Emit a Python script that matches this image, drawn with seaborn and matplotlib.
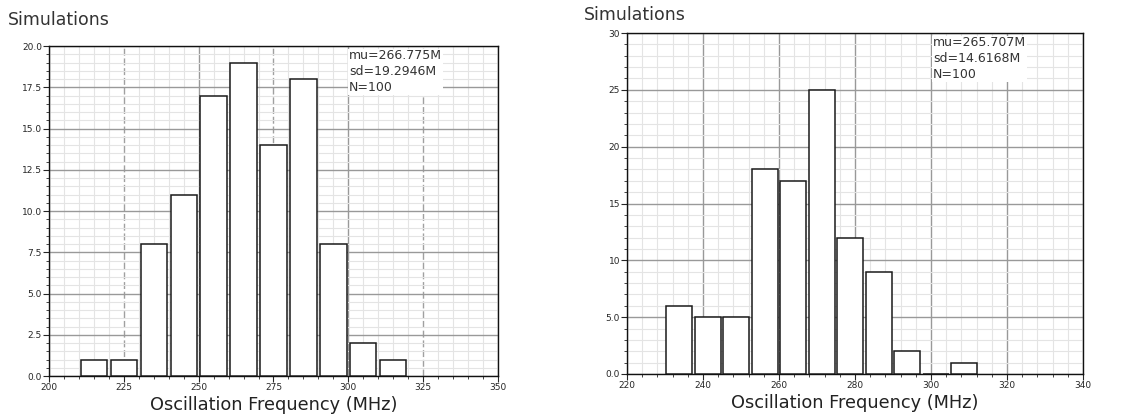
import matplotlib
matplotlib.use("Agg")
import matplotlib.pyplot as plt
import seaborn as sns
import numpy as np
import pandas as pd
from matplotlib.ticker import MultipleLocator

# left histogram: 10 MHz bins
left_edges = [210, 220, 230, 240, 250, 260, 270, 280, 290, 300, 310, 320]
left_counts = [1, 1, 8, 11, 17, 19, 14, 18, 8, 2, 1]
left_stats = "mu=266.775M\nsd=19.2946M\nN=100"

# right histogram: 7.5 MHz bins
right_edges = [230, 237.5, 245, 252.5, 260, 267.5, 275, 282.5, 290, 297.5, 305, 312.5]
right_counts = [6, 5, 5, 18, 17, 25, 12, 9, 2, 0, 1]
right_stats = "mu=265.707M\nsd=14.6168M\nN=100"

left_xticks = [200, 225, 250, 275, 300, 325, 350]
left_yticks = [0.0, 2.5, 5.0, 7.5, 10.0, 12.5, 15.0, 17.5, 20.0]
right_xticks = [220, 240, 260, 280, 300, 320, 340]
right_yticks = [0, 5, 10, 15, 20, 25, 30]
right_ylabels = ["0.0", "5.0", "10", "15", "20", "25", "30"]

sns.set_style("white")
plt.rcParams["font.family"] = ["DejaVu Sans"]

fig = plt.figure(figsize=(11.31, 4.19), dpi=100)
ax1 = fig.add_axes([0.0433, 0.1026, 0.397, 0.7874])
ax2 = fig.add_axes([0.5544, 0.1074, 0.4032, 0.8138])


def draw(ax, edges, counts, shrink, xlim, ylim, xminor, yminor, xticks, yticks, ylabels, dashed):
    e = np.array(edges, dtype=float)
    df = pd.DataFrame({"freq": (e[:-1] + e[1:]) / 2, "count": counts})
    ax.set_xlim(*xlim)
    ax.set_ylim(*ylim)
    ax.xaxis.set_minor_locator(MultipleLocator(xminor))
    ax.yaxis.set_minor_locator(MultipleLocator(yminor))
    ax.grid(which="minor", color="#e4e4e4", lw=0.8)
    ax.grid(which="major", axis="y", color="#999999", lw=1.0)
    for x in xticks:
        if x in dashed:
            ax.axvline(x, color="#a0a0a0", lw=1.0, ls=(0, (5, 2)), zorder=0.5)
        else:
            ax.axvline(x, color="#999999", lw=1.0, zorder=0.5)
    ax.set_axisbelow(True)
    sns.histplot(data=df, x="freq", weights="count", bins=list(edges), shrink=shrink, ax=ax,
                 color="white", edgecolor="#1a1a1a", linewidth=1.1, alpha=1, zorder=3)
    ax.set_xticks(xticks)
    ax.set_yticks(yticks)
    ax.set_yticklabels(ylabels)
    ax.set_xlim(*xlim)
    ax.set_ylim(*ylim)
    ax.tick_params(which="major", direction="out", length=4, width=0.8, labelsize=6.5,
                   left=True, bottom=True, pad=1)
    ax.tick_params(which="minor", direction="out", length=2, width=0.6, left=True, bottom=True)
    for s in ax.spines.values():
        s.set_color("#111111")
        s.set_linewidth(1.0)
    ax.set_ylabel("")
    ax.set_xlabel("Oscillation Frequency (MHz)", fontsize=12.8, labelpad=3, color="#222222")


draw(ax1, left_edges, left_counts, 0.88, (200, 350), (0, 20), 5, 0.5,
     left_xticks, left_yticks, ["%.1f" % v for v in left_yticks], [225, 275, 325])
draw(ax2, right_edges, right_counts, 0.9, (220, 340), (0, 30), 4, 1,
     right_xticks, right_yticks, right_ylabels, [])

ax1.text(0.668, 0.99, left_stats, transform=ax1.transAxes, fontsize=9, va="top", ha="left",
         linespacing=1.3, color="#333333",
         bbox=dict(fc="white", ec="none", pad=0.5), zorder=5)
ax2.text(0.671, 0.99, right_stats, transform=ax2.transAxes, fontsize=9, va="top", ha="left",
         linespacing=1.3, color="#333333",
         bbox=dict(fc="white", ec="none", pad=0.5), zorder=5)

fig.text(0.007, 0.952, "Simulations", fontsize=12.5, va="center", ha="left", color="#333333")
fig.text(0.516, 0.965, "Simulations", fontsize=12.5, va="center", ha="left", color="#333333")

fig.savefig("out.png", dpi=100)
